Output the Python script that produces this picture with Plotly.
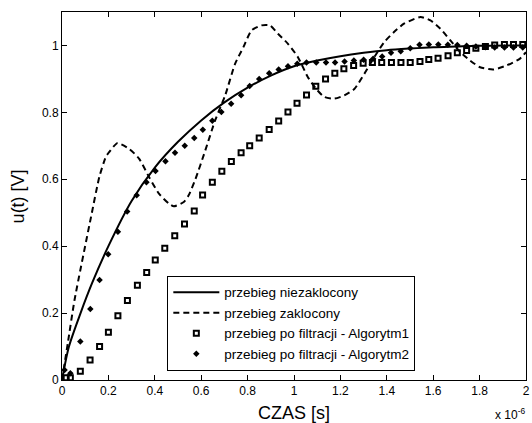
import plotly.graph_objects as go

# --- data (time in microseconds, axis shows x 10^-6) ---
t_clean = [0.0, 0.03, 0.08, 0.13, 0.2, 0.3, 0.4, 0.5, 0.6, 0.7, 0.8, 0.9, 1.0, 1.1, 1.2,
           1.3, 1.4, 1.5, 1.6, 1.7, 1.8, 2.0]
u_clean = [0.0, 0.10, 0.20, 0.29, 0.40, 0.535, 0.635, 0.712, 0.776, 0.830, 0.874, 0.910,
           0.938, 0.955, 0.968, 0.978, 0.986, 0.991, 0.995, 0.997, 0.999, 1.0]

t_noisy = [0.0, 0.025, 0.054, 0.125, 0.161, 0.189, 0.203, 0.239, 0.289, 0.332, 0.375, 0.418,
           0.461, 0.482, 0.525, 0.546, 0.575, 0.618, 0.660, 0.703, 0.746, 0.782, 0.817, 0.860,
           0.896, 0.931, 0.974, 1.017, 1.060, 1.096, 1.131, 1.174, 1.217, 1.260, 1.303, 1.346,
           1.389, 1.431, 1.474, 1.545, 1.588, 1.631, 1.674, 1.717, 1.759, 1.802, 1.859, 1.916,
           1.973, 2.0]
u_noisy = [0.0, 0.110, 0.239, 0.487, 0.607, 0.667, 0.681, 0.708, 0.691, 0.662, 0.607, 0.557,
           0.527, 0.519, 0.532, 0.552, 0.600, 0.687, 0.776, 0.850, 0.945, 0.995, 1.045, 1.060,
           1.060, 1.035, 1.005, 0.965, 0.905, 0.870, 0.846, 0.841, 0.851, 0.870, 0.915, 0.965,
           1.010, 1.040, 1.065, 1.085, 1.075, 1.050, 1.015, 0.980, 0.955, 0.935, 0.928, 0.940,
           0.960, 0.980]

t_alg1 = [0.018, 0.036, 0.079, 0.121, 0.162, 0.200, 0.241, 0.282, 0.325, 0.365, 0.402, 0.443,
          0.486, 0.528, 0.570, 0.606, 0.648, 0.689, 0.730, 0.772, 0.809, 0.850, 0.893, 0.934,
          0.974, 1.013, 1.054, 1.094, 1.136, 1.176, 1.215, 1.257, 1.298, 1.338, 1.378, 1.420,
          1.461, 1.501, 1.543, 1.581, 1.621, 1.664, 1.704, 1.744, 1.784, 1.825, 1.865, 1.907,
          1.946, 1.986]
u_alg1 = [0.007, 0.007, 0.026, 0.060, 0.100, 0.143, 0.192, 0.238, 0.283, 0.321, 0.359, 0.394,
          0.431, 0.466, 0.505, 0.553, 0.591, 0.624, 0.653, 0.679, 0.700, 0.723, 0.749, 0.774,
          0.801, 0.827, 0.852, 0.878, 0.900, 0.917, 0.930, 0.940, 0.947, 0.949, 0.949, 0.949,
          0.949, 0.949, 0.952, 0.958, 0.962, 0.969, 0.978, 0.985, 0.992, 0.997, 1.001, 1.003,
          1.003, 1.003]

t_alg2 = [0.011, 0.036, 0.079, 0.122, 0.162, 0.199, 0.241, 0.281, 0.322, 0.364, 0.403, 0.446,
          0.487, 0.529, 0.570, 0.607, 0.648, 0.687, 0.729, 0.772, 0.809, 0.850, 0.893, 0.934,
          0.974, 1.014, 1.054, 1.096, 1.138, 1.177, 1.218, 1.258, 1.300, 1.341, 1.380, 1.418,
          1.460, 1.501, 1.541, 1.581, 1.622, 1.663, 1.704, 1.744, 1.784, 1.825, 1.865, 1.907,
          1.946, 1.986]
u_alg2 = [0.030, 0.020, 0.115, 0.212, 0.299, 0.376, 0.443, 0.504, 0.552, 0.591, 0.625, 0.654,
          0.679, 0.700, 0.723, 0.748, 0.775, 0.801, 0.826, 0.851, 0.879, 0.900, 0.917, 0.928,
          0.938, 0.945, 0.949, 0.949, 0.949, 0.949, 0.952, 0.955, 0.957, 0.960, 0.967, 0.978,
          0.983, 0.992, 1.002, 1.003, 1.003, 1.002, 1.001, 0.999, 0.997, 0.995, 0.994, 0.994,
          0.994, 0.994]

names = ["przebieg niezaklocony", "przebieg zaklocony",
         "przebieg po filtracji - Algorytm1", "przebieg po filtracji - Algorytm2"]
x_ticks = [0, 0.2, 0.4, 0.6, 0.8, 1, 1.2, 1.4, 1.6, 1.8, 2]
x_tick_text = ["0", "0.2", "0.4", "0.6", "0.8", "1", "1.2", "1.4", "1.6", "1.8", "2"]
y_ticks = [0, 0.2, 0.4, 0.6, 0.8, 1]
y_tick_text = ["0", "0.2", "0.4", "0.6", "0.8", "1"]

FONT = "Liberation Sans, Arial, sans-serif"

fig = go.Figure()
fig.add_trace(go.Scatter(x=t_clean, y=u_clean, mode="lines", name=names[0],
                         line=dict(color="black", width=2, shape="spline", smoothing=0.8)))
fig.add_trace(go.Scatter(x=t_noisy, y=u_noisy, mode="lines", name=names[1],
                         line=dict(color="black", width=2, dash="6px,4px", shape="spline", smoothing=0.6)))
fig.add_trace(go.Scatter(x=t_alg1, y=u_alg1, mode="markers", name=names[2],
                         marker=dict(symbol="square-open", size=5, color="black",
                                     line=dict(width=2, color="black"))))
fig.add_trace(go.Scatter(x=t_alg2, y=u_alg2, mode="markers", name=names[3],
                         marker=dict(symbol="diamond", size=5, color="black",
                                     line=dict(width=0))))

axis_common = dict(showline=True, linecolor="black", linewidth=1, mirror="ticks",
                   ticks="inside", ticklen=5, tickcolor="black", showgrid=False,
                   zeroline=False, ticklabeloverflow="allow",
                   tickfont=dict(family=FONT, size=12, color="black"))

fig.update_xaxes(range=[0, 2], tickmode="array", tickvals=x_ticks, ticktext=x_tick_text,
                 **axis_common)
fig.update_yaxes(range=[0, 1.1], tickmode="array", tickvals=y_ticks, ticktext=y_tick_text,
                 **axis_common)

fig.update_layout(
    width=532, height=423,
    margin=dict(l=62, r=2, t=12, b=43),
    paper_bgcolor="white", plot_bgcolor="white",
    font=dict(family=FONT, size=12, color="black"),
    showlegend=True,
    legend=dict(x=0.227, y=0.283, xanchor="left", yanchor="top",
                bordercolor="black", borderwidth=1, bgcolor="white",
                font=dict(family=FONT, size=13.5, color="black"),
                itemwidth=46, tracegroupgap=0),
    annotations=[
        dict(text="CZAS [s]", xref="paper", yref="paper", x=0.5, y=-0.09,
             xanchor="center", yanchor="middle", showarrow=False,
             font=dict(family=FONT, size=18, color="black")),
        dict(text="u(t) [V]", xref="paper", yref="paper", x=-0.094, y=0.5,
             xanchor="center", yanchor="middle", textangle=-90, showarrow=False,
             font=dict(family=FONT, size=18, color="black")),
        dict(text="x 10<sup>-6</sup>", xref="paper", yref="paper", x=1.0, y=-0.092,
             xanchor="right", yanchor="middle", showarrow=False, borderpad=0,
             font=dict(family=FONT, size=12, color="black")),
    ],
)

fig.write_html("out.html", config={"displayModeBar": False},
               post_script="document.body.style.margin='0px';")
